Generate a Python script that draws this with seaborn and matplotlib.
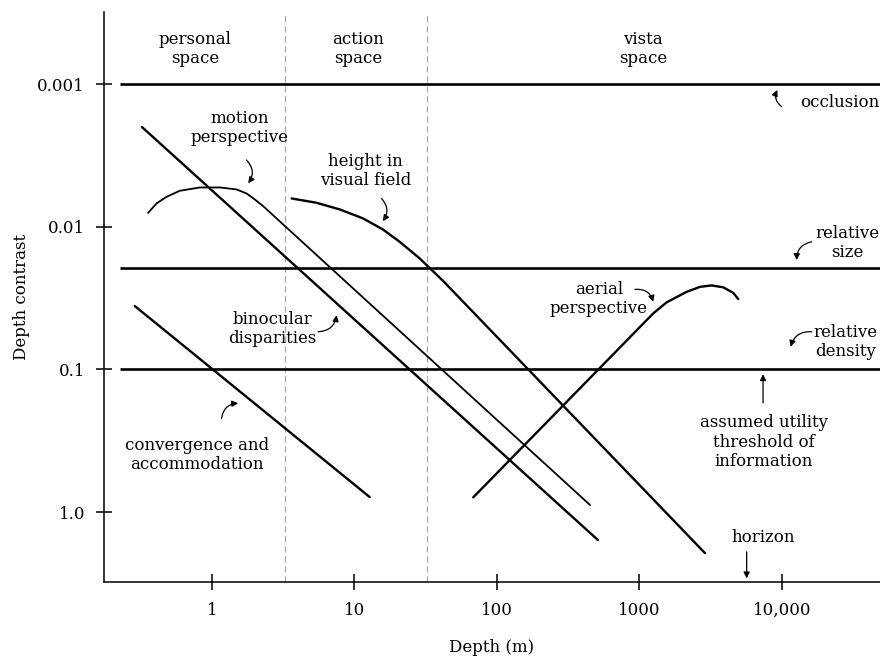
import numpy as np
import seaborn as sns
import matplotlib
matplotlib.use("Agg")
import matplotlib.pyplot as plt

sns.set_theme(style="ticks")
plt.rcParams['font.family'] = ['DejaVu Serif']
plt.rcParams['text.color'] = 'black'
plt.rcParams['axes.labelcolor'] = 'black'

# depth (m) / depth contrast values
conv_x = [0.288, 12.8]
conv_y = [0.036, 0.785]

bino_x = [0.323, 511]
bino_y = [0.0020, 1.57]

motion_x = [0.357, 0.409, 0.481, 0.596, 0.824, 1.138, 1.49, 1.75, 2.00, 2.29, 450]
motion_y = [0.0080, 0.00687, 0.00617, 0.0056, 0.00531, 0.00531, 0.00548, 0.00585,
            0.00644, 0.00718, 0.893]

height_x = [3.63, 5.43, 7.91, 11.5, 15.9, 20.9, 28.8, 42.0, 2882]
height_y = [0.00634, 0.0068, 0.00757, 0.00875, 0.01048, 0.01282, 0.01673, 0.02405, 1.94]

aerial_x = [68.2, 1250, 1552, 2144, 2658, 3211, 3873, 4550, 4936]
aerial_y = [0.789, 0.0405, 0.0339, 0.0286, 0.0264, 0.0258, 0.0266, 0.0291, 0.0322]

# horizontal reference levels: occlusion, relative size, utility threshold
levels = [0.001, 0.0195, 0.1]
space_bounds = [3.25, 32.3]

x_ticks = [1, 10, 100, 1000, 10000]
x_labels = ['1', '10', '100', '1000', '10,000']
y_ticks = [0.001, 0.01, 0.1, 1.0]
y_labels = ['0.001', '0.01', '0.1', '1.0']

fig = plt.figure(figsize=(8.8, 6.62), dpi=100)
ax = fig.add_axes([0.118, 0.1208, 0.882, 0.861])
ax.set_xscale('log')
ax.set_yscale('log')
ax.set_xlim(0.1746, 48700)
ax.set_ylim(3.094, 0.000313)

for b in space_bounds:
    ax.axvline(b, color='#a8a8a8', lw=0.9, ls=(0, (5, 3)), zorder=1)

ax.hlines(levels, 0.226, 48700, color='black', lw=1.9, zorder=2)

lw = 1.7
sns.lineplot(x=conv_x, y=conv_y, sort=False, estimator=None, color='black', lw=lw, ax=ax)
sns.lineplot(x=bino_x, y=bino_y, sort=False, estimator=None, color='black', lw=lw, ax=ax)
sns.lineplot(x=motion_x, y=motion_y, sort=False, estimator=None, color='black', lw=1.3, ax=ax)
sns.lineplot(x=height_x, y=height_y, sort=False, estimator=None, color='black', lw=lw, ax=ax)
sns.lineplot(x=aerial_x, y=aerial_y, sort=False, estimator=None, color='black', lw=lw, ax=ax)

ax.set_xticks(x_ticks)
ax.set_xticklabels(x_labels)
ax.set_yticks(y_ticks)
ax.set_yticklabels(y_labels)
ax.minorticks_off()
ax.tick_params(axis='both', direction='inout', length=11, width=1.1,
               labelsize=12, colors='black')
ax.tick_params(axis='x', pad=9)
ax.tick_params(axis='y', pad=8)
for s in ['top', 'right']:
    ax.spines[s].set_visible(False)
for s in ['left', 'bottom']:
    ax.spines[s].set_linewidth(1.1)
    ax.spines[s].set_color('black')

ax.set_xlabel('Depth (m)', fontsize=12, labelpad=14)
ax.set_ylabel('Depth contrast', fontsize=12, labelpad=5)

fs = 12
txt = dict(fontsize=fs, ha='center', va='center', linespacing=1.2)
ax.text(0.76, 0.000569, 'personal\nspace', **txt)
ax.text(10.6, 0.000569, 'action\nspace', **txt)
ax.text(1059, 0.000569, 'vista\nspace', **txt)
ax.text(1.57, 0.00204, 'motion\nperspective', **txt)
ax.text(11.9, 0.00407, 'height in\nvisual field', **txt)
ax.text(2.64, 0.0522, 'binocular\ndisparities', **txt)
ax.text(0.785, 0.399, 'convergence and\naccommodation', **txt)
ax.text(520, 0.0322, 'aerial\nperspective', **txt)
ax.text(13370, 0.00134, 'occlusion', fontsize=fs, ha='left', va='center')
ax.text(28600, 0.0130, 'relative\nsize', **txt)
ax.text(28100, 0.0644, 'relative\ndensity', **txt)
ax.text(7480, 0.323, 'assumed utility\nthreshold of\ninformation', **txt)
ax.text(7360, 1.50, 'horizon', **txt)

def arrow(tail, head, rad):
    ax.annotate('', xy=head, xytext=tail,
                arrowprops=dict(arrowstyle='-|>', color='black', lw=0.9,
                                mutation_scale=9, shrinkA=0, shrinkB=0,
                                connectionstyle=f'arc3,rad={rad}'))

arrow((9950, 0.00144), (9270, 0.00110), -0.4)
arrow((16150, 0.01276), (12680, 0.01714), 0.4)
arrow((16150, 0.0545), (11510, 0.0695), 0.4)
arrow((930, 0.0275), (1250, 0.0336), -0.4)
arrow((1.75, 0.00341), (1.80, 0.00497), -0.4)
arrow((15.5, 0.00634), (15.8, 0.00914), -0.4)
arrow((5.57, 0.0545), (7.50, 0.0417), 0.4)
arrow((1.17, 0.220), (1.53, 0.173), -0.4)
arrow((7360, 0.172), (7360, 0.108), 0)
arrow((5650, 1.90), (5650, 2.92), 0)

fig.savefig('out.png', dpi=100)
